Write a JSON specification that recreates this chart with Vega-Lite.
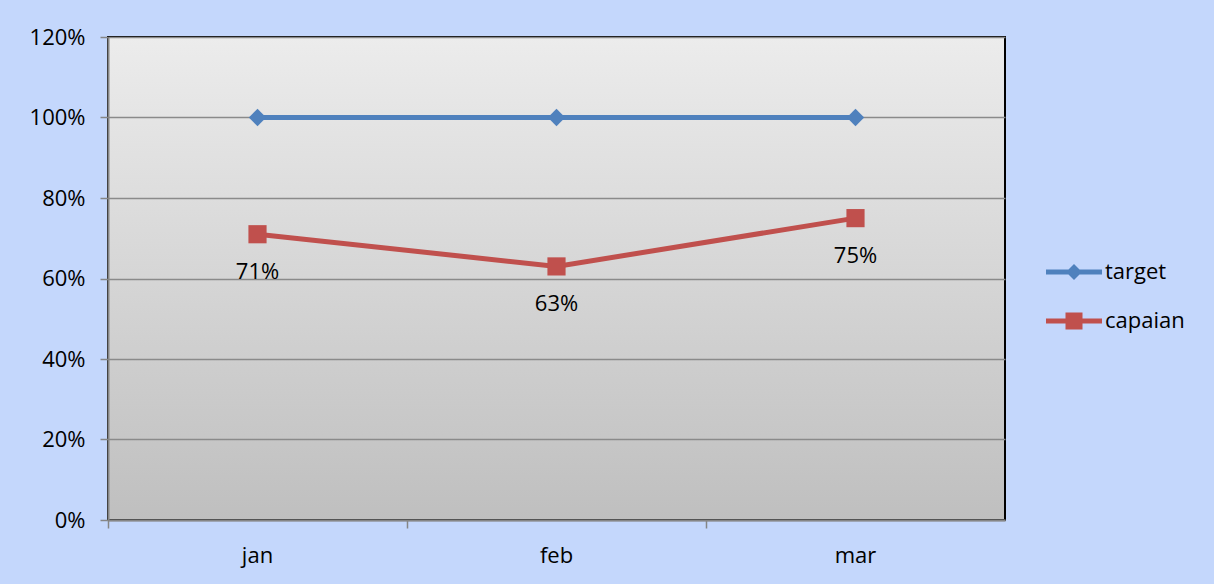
{
  "$schema": "https://vega.github.io/schema/vega-lite/v6.json",
  "autosize": {"type": "none"},
  "width": 897,
  "height": 483,
  "padding": {"left": 108, "top": 37, "right": 209, "bottom": 64},
  "background": "#c4d7fc",
  "config": {
    "font": "Open Sans",
    "view": {
      "fill": {"gradient": "linear", "x1": 0, "y1": 0, "x2": 0, "y2": 1,
        "stops": [{"offset": 0, "color": "#ececec"}, {"offset": 1, "color": "#bfbfbf"}]},
      "stroke": "#000000",
      "strokeWidth": 2
    },
    "axis": {
      "labelFont": "Open Sans",
      "labelFontSize": 22,
      "labelColor": "#000000",
      "domainColor": "#868686",
      "domainWidth": 2,
      "tickColor": "#868686",
      "tickWidth": 1.5,
      "tickSize": 8,
      "gridColor": "#8a8a8a",
      "gridWidth": 1.5,
      "title": null
    }
  },
  "data": {
    "values": [
      {"month": "jan", "series": "target", "value": 1.0},
      {"month": "feb", "series": "target", "value": 1.0},
      {"month": "mar", "series": "target", "value": 1.0},
      {"month": "jan", "series": "capaian", "value": 0.71},
      {"month": "feb", "series": "capaian", "value": 0.63},
      {"month": "mar", "series": "capaian", "value": 0.75}
    ]
  },
  "encoding": {
    "x": {
      "field": "month", "type": "nominal", "sort": ["jan", "feb", "mar"],
      "scale": {"type": "band", "paddingInner": 0, "paddingOuter": 0},
      "axis": {"labelAngle": 0, "bandPosition": 0, "labelPadding": 17, "grid": false, "title": null}
    },
    "y": {
      "field": "value", "type": "quantitative",
      "scale": {"domain": [0, 1.2], "nice": false, "zero": true},
      "axis": {"values": [0, 0.2, 0.4, 0.6, 0.8, 1.0, 1.2], "format": ".0%", "labelPadding": 15, "grid": true, "title": null}
    },
    "color": {
      "field": "series", "type": "nominal",
      "scale": {"domain": ["target", "capaian"], "range": ["#4f81bd", "#c0504d"]},
      "legend": {
        "title": null,
        "orient": "none",
        "legendX": 955,
        "legendY": 224,
        "padding": 0,
        "symbolSize": 400,
        "labelFontSize": 22,
        "labelFont": "Open Sans",
        "labelColor": "#000000",
        "labelOffset": 20,
        "rowPadding": 27,
        "encode": {
          "symbols": {
            "update": {
              "shape": {"signal": "datum.value == 'target' ? 'M-2.8,-0.25H2.8V0.25H-2.8Z M0,-0.8L0.8,0L0,0.8L-0.8,0Z' : 'M-2.8,-0.25H2.8V0.25H-2.8Z M-0.85,-0.85H0.85V0.85H-0.85Z'"},
              "fill": {"signal": "datum.value == 'target' ? '#4f81bd' : '#c0504d'"},
              "fillOpacity": {"value": 1},
              "opacity": {"value": 1},
              "strokeWidth": {"value": 0}
            }
          }
        }
      }
    }
  },
  "layer": [
    {
      "mark": {"type": "line", "strokeWidth": 5}
    },
    {
      "transform": [{"filter": "datum.series == 'target'"}],
      "mark": {"type": "point", "filled": true, "opacity": 1, "shape": "diamond", "size": 300}
    },
    {
      "transform": [{"filter": "datum.series == 'capaian'"}],
      "mark": {"type": "point", "filled": true, "opacity": 1, "shape": "square", "size": 330}
    },
    {
      "transform": [{"filter": "datum.series == 'capaian'"}],
      "mark": {"type": "text", "dy": 38, "fontSize": 22, "font": "Open Sans", "color": "#000000"},
      "encoding": {
        "text": {"field": "value", "type": "quantitative", "format": ".0%"},
        "color": {"value": "#000000"}
      }
    }
  ]
}
